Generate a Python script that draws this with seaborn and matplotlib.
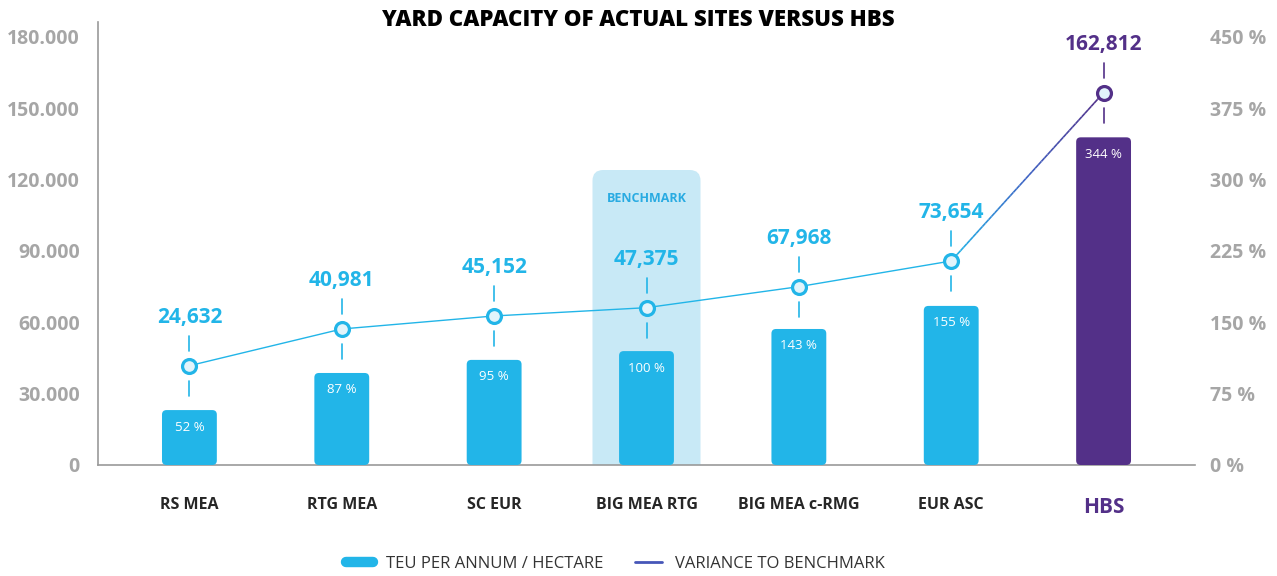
import numpy as np
import pandas as pd
import seaborn as sns
import matplotlib.pyplot as plt
from matplotlib.patches import FancyBboxPatch
from matplotlib.lines import Line2D
from matplotlib.collections import LineCollection
from matplotlib.colors import LinearSegmentedColormap

sns.set_style("white")
plt.rcParams['font.family'] = ['Open Sans', 'DejaVu Sans']

# data
sites = ['RS MEA', 'RTG MEA', 'SC EUR', 'BIG MEA RTG', 'BIG MEA c-RMG', 'EUR ASC', 'HBS']
bar_height = [23100, 38700, 44200, 47900, 57200, 66900, 137800]   # left axis
variance_pt = [104.4, 143.0, 156.7, 165.4, 187.5, 214.5, 391.4]     # right axis, %
teu_labels = ['24,632', '40,981', '45,152', '47,375', '67,968', '73,654', '162,812']
pct_labels = ['52 %', '87 %', '95 %', '100 %', '143 %', '155 %', '344 %']
benchmark_site = 'BIG MEA RTG'

BLUE = '#22b5e8'
PURPLE = '#533088'
GREY = '#a6a6a6'
LIGHT = '#c8e9f6'

df = pd.DataFrame({'site': sites, 'teu': bar_height, 'var': variance_pt})

fig = plt.figure(figsize=(12.77, 5.76), dpi=100)
ax = fig.add_axes([98 / 1277, 111 / 576, 1097 / 1277, 443 / 576])

colors = [PURPLE if s == 'HBS' else BLUE for s in sites]
sns.barplot(data=df, x='site', y='teu', hue='site', palette=colors, legend=False,
            width=0.36, saturation=1, ax=ax, zorder=3)

ax.set_xlim(-0.6, 6.6)
ax.set_ylim(0, 186300)
ax2 = ax.twinx()
ax2.set_ylim(0, 465.75)

# px -> data conversions
y1_per_px = 186300 / 443
y2_per_px = 465.75 / 443
x_per_px = 7.2 / 1097
aspect = y1_per_px / x_per_px

# rounded bars
for p in list(ax.patches):
    x0, y0, w, h = p.get_x(), p.get_y(), p.get_width(), p.get_height()
    fc = p.get_facecolor()
    p.remove()
    ax.add_patch(FancyBboxPatch((x0, y0), w, h, boxstyle='round,pad=0,rounding_size=0.03',
                                mutation_aspect=aspect, fc=fc, ec='none', zorder=3))

# benchmark box
bi = sites.index(benchmark_site)
bw = 108 * x_per_px
ax.add_patch(FancyBboxPatch((bi - bw / 2, -20 * y1_per_px), bw, 315 * y1_per_px,
                            boxstyle='round,pad=0,rounding_size=0.07', mutation_aspect=aspect,
                            fc=LIGHT, ec='none', zorder=1, clip_on=True))
ax.text(bi, 267 * y1_per_px, 'BENCHMARK', ha='center', va='center', color='#29abe2',
        fontsize=9, fontweight='bold', zorder=4)

# percent labels inside bars
for i, (h, t) in enumerate(zip(bar_height, pct_labels)):
    ax.text(i, h - 17 * y1_per_px, t, ha='center', va='center', color='white',
            fontsize=9.5, zorder=5)

# variance line
sns.lineplot(x=np.arange(len(sites[:-1])), y=variance_pt[:-1], ax=ax2, color=BLUE, lw=1, zorder=4)
n = len(sites)
xs = np.linspace(n - 2, n - 1, 50)
ys = np.linspace(variance_pt[-2], variance_pt[-1], 50)
segs = np.stack([np.column_stack([xs[:-1], ys[:-1]]), np.column_stack([xs[1:], ys[1:]])], axis=1)
cmap = LinearSegmentedColormap.from_list('bp', [BLUE, '#3f63c4', PURPLE])
lc = LineCollection(segs, colors=cmap(np.linspace(0, 1, len(segs))), lw=1.2, zorder=4)
ax2.add_collection(lc)

for i, (v, t) in enumerate(zip(variance_pt, teu_labels)):
    c = PURPLE if sites[i] == 'HBS' else BLUE
    ax2.plot([i], [v], 'o', ms=10, mfc='#e2f4fb', mec=c, mew=2.3, zorder=6)
    for sgn in (1, -1):
        ax2.plot([i, i], [v + sgn * 15 * y2_per_px, v + sgn * 30 * y2_per_px], color=c, lw=1.2, zorder=4)
    ax2.text(i, v + 48 * y2_per_px, t, ha='center', va='center', color=c,
             fontsize=15, fontweight='bold', zorder=6)

# axes styling
ax.set_yticks(np.arange(0, 180001, 30000))
ax.set_yticklabels([f'{v:,.0f}'.replace(',', '.') for v in np.arange(0, 180001, 30000)])
ax2.set_yticks(np.arange(0, 451, 75))
ax2.set_yticklabels([f'{v:.0f} %' for v in np.arange(0, 451, 75)])
for a, pad in ((ax, 13), (ax2, 11)):
    a.tick_params(axis='y', length=0, pad=pad, labelsize=14, labelcolor=GREY)
    for lab in a.get_yticklabels():
        lab.set_fontweight('bold')
ax.tick_params(axis='x', length=0, pad=23, labelsize=11.5)
for lab in ax.get_xticklabels():
    lab.set_fontweight('bold')
    if lab.get_text() == 'HBS':
        lab.set_color(PURPLE)
        lab.set_fontsize(15)
ax.set_xlabel('')
ax.set_ylabel('')
ax2.set_ylabel('')
for a in (ax, ax2):
    for s in ('top', 'right'):
        a.spines[s].set_visible(False)
    a.spines['left'].set_visible(a is ax)
    a.spines['bottom'].set_visible(a is ax)
ax.spines['left'].set_color('#9a9a9a')
ax.spines['bottom'].set_color('#9a9a9a')
ax.spines['left'].set_linewidth(1.2)
ax.spines['bottom'].set_linewidth(1.2)

fig.text(0.5, 1 - 20 / 576, 'YARD CAPACITY OF ACTUAL SITES VERSUS HBS', ha='center', va='center',
         fontsize=16, fontweight='heavy', color='black')

handles = [Line2D([], [], color=BLUE, lw=7.5, solid_capstyle='round'),
           Line2D([], [], color='#4656b8', lw=2)]
fig.legend(handles, ['TEU PER ANNUM / HECTARE', 'VARIANCE TO BENCHMARK'], loc='center',
           bbox_to_anchor=(0.482, 1 - 564 / 576), ncol=2, frameon=False, fontsize=12,
           handlelength=1.6, columnspacing=1.9, labelcolor='#333333')

fig.savefig('out.png', dpi=100)
